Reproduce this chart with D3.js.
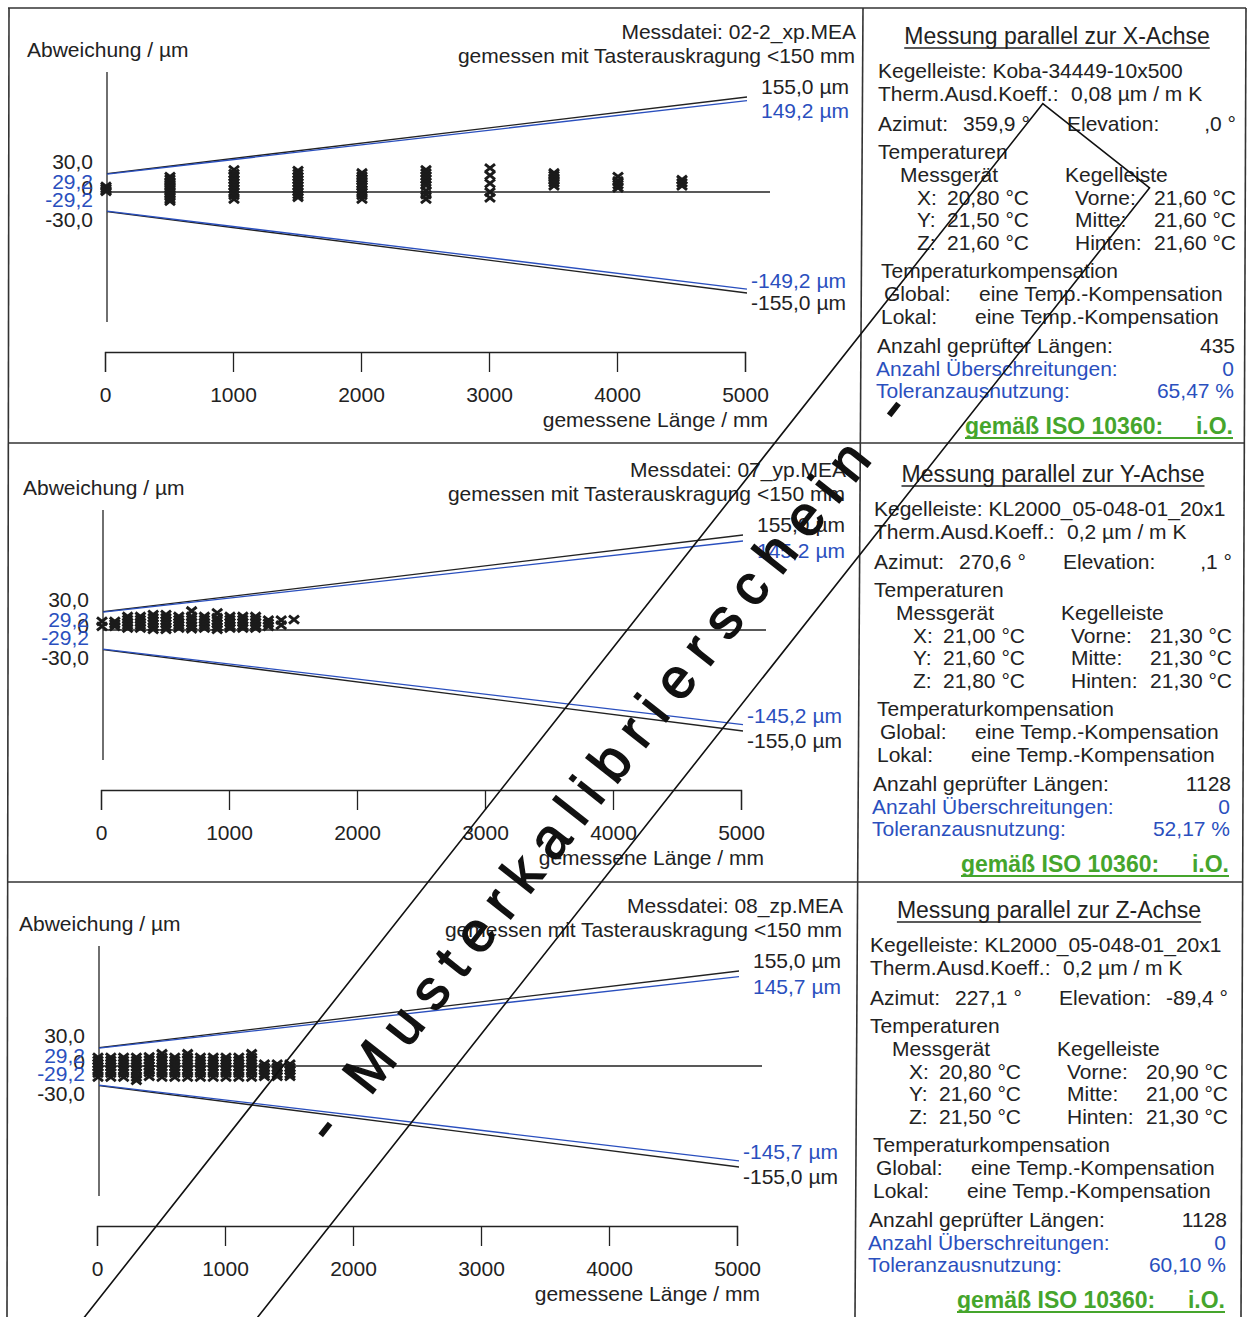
<!DOCTYPE html>
<html>
<head>
<meta charset="utf-8">
<script src="https://cdnjs.cloudflare.com/ajax/libs/d3/7.8.5/d3.min.js"></script>
<style>
    body { margin: 0; background: #fff; }
    svg { display: block; }
    text { font-family: "Liberation Sans", Arial, sans-serif; fill: #222; }
</style>
</head>
<body>
<div class="svg-container"></div>
<script>
// ---------------- data ----------------
let axisNames = ["X", "Y", "Z"];
let measureFiles = ["02-2_xp.MEA", "07_yp.MEA", "08_zp.MEA"];
let mpeStart = 30.0;     // black limit at L = 0
let mpeEnd = 155.0;      // black limit at L = 5000 mm
let limitStart = [29.2, 29.2, 29.2];   // blue limit at L = 0
let limitEnd = [149.2, 145.2, 145.7];  // blue limit at L = 5000 mm
let lengthTicks = [0, 1000, 2000, 3000, 4000, 5000];

let kegelleiste = ["Koba-34449-10x500", "KL2000_05-048-01_20x1", "KL2000_05-048-01_20x1"];
let ausdKoeff = ["0,08", "0,2", "0,2"];
let azimut = ["359,9", "270,6", "227,1"];
let elevation = [",0", ",1", "-89,4"];
let tempMessgeraet = [["20,80", "21,50", "21,60"], ["21,00", "21,60", "21,80"], ["20,80", "21,60", "21,50"]];
let tempKegelleiste = [["21,60", "21,60", "21,60"], ["21,30", "21,30", "21,30"], ["20,90", "21,00", "21,30"]];
let anzahlLaengen = ["435", "1128", "1128"];
let anzahlUeberschreitungen = ["0", "0", "0"];
let toleranzausnutzung = ["65,47", "52,17", "60,10"];

// measured deviations (µm), grouped by nominal length (mm)
let lengthsX = [0, 500, 1000, 1500, 2000, 2500, 3000, 3500, 4000, 4500];
let deviationsX = [
    [9, 6, 3, 1],
    [25, 21, 17, 13, 9, 5, 1, -3, -7, -11, -14],
    [36, 30, 25, 20, 15, 10, 5, 0, -5, -11],
    [35, 30, 25, 20, 15, 10, 5, 0, -4, -8],
    [31, 26, 22, 18, 13, 9, 4, 0, -5, -11],
    [36, 31, 26, 21, 16, 11, 2, -4, -11],
    [39, 27, 14, 0, -9],
    [31, 27, 23, 19, 15, 10],
    [25, 18, 12, 7],
    [20, 15, 10]
];
let lengthsY = [0, 100, 200, 300, 400, 500, 600, 700, 800, 900, 1000, 1100, 1200, 1300, 1400, 1500];
let deviationsY = [
    [14, 6],
    [14, 10, 6],
    [22, 17, 12, 8, 3],
    [22, 17, 12, 8, 3],
    [25, 20, 15, 10, 5, 1],
    [25, 20, 15, 10, 5, 1],
    [22, 17, 12, 8, 3],
    [31, 22, 17, 12, 7, 2],
    [22, 17, 12, 8, 3],
    [28, 20, 15, 10, 5, 1],
    [22, 17, 12, 7, 3],
    [22, 17, 12, 7, 3],
    [22, 17, 12, 7, 3],
    [16, 11, 6],
    [16, 8],
    [17]
];
let lengthsZ = [0, 100, 200, 300, 400, 500, 600, 700, 800, 900, 1000, 1100, 1200, 1300, 1400, 1500];
let deviationsZ = [
    [14, 9, 4, -1, -6, -11, -17],
    [14, 9, 4, -1, -6, -11, -17],
    [14, 9, 4, -1, -6, -11, -17],
    [14, 9, 4, -1, -6, -11, -17, -22],
    [15, 10, 5, 0, -5, -10, -16],
    [20, 14, 9, 4, -1, -6, -11, -17],
    [14, 9, 4, -1, -6, -11, -17],
    [20, 14, 9, 4, -1, -6, -11, -17],
    [14, 9, 4, -1, -6, -11, -17],
    [14, 9, 4, -1, -6, -11, -17],
    [14, 9, 4, -1, -6, -11, -17],
    [14, 9, 4, -1, -6, -11, -17],
    [20, 14, 9, 4, -1, -6, -11, -17],
    [3, -2, -7, -12, -16],
    [3, -2, -7, -12, -16],
    [3, -2, -7, -12, -16]
];
let allLengths = [lengthsX, lengthsY, lengthsZ];
let allDeviations = [deviationsX, deviationsY, deviationsZ];

// ---------------- layout ----------------
let width = 1252;
let height = 1317;
let PANEL_Y = [36, 474, 910];      // title row of every panel
let PANEL_DX = [0, -4, -8];        // scan skew
let HEADER_RIGHT = [856, 846, 843];
let BLUE = "#2a4fbe";
let GREEN = "#45a52c";
let INK = "#222";
let FONT = 21;

let svg = d3.select(".svg-container")
    .append("svg")
    .attr("width", width)
    .attr("height", height);

svg.append("rect").attr("width", width).attr("height", height).attr("fill", "#fff");

function fmt(v)
{
    return v.toFixed(1).replace(".", ",");
}

function addText(g, x, y, str, opts)
{
    opts = opts || {};
    let t = g.append("text")
        .attr("x", x)
        .attr("y", y)
        .attr("dy", "0.35em")
        .style("font-size", (opts.size || FONT) + "px")
        .attr("text-anchor", opts.anchor || "start")
        .text(str);
    if (opts.color) t.style("fill", opts.color);
    if (opts.bold) t.style("font-weight", "bold");
    return t;
}

function underline(g, t, y, color)
{
    let b = t.node().getBBox();
    g.append("line")
        .attr("x1", b.x).attr("x2", b.x + b.width)
        .attr("y1", y).attr("y2", y)
        .attr("stroke", color).attr("stroke-width", 1.5);
}

function drawChart(i)
{
    let dx = PANEL_DX[i];
    let ty = PANEL_Y[i];
    let zero = ty + 156;
    let g = svg.append("g").attr("class", "chart");

    let x = d3.scaleLinear().domain([0, 5000]).range([105 + dx, 745 + dx]);
    let y = d3.scaleLinear().domain([-155, 0, 155]).range([zero + 101, zero, zero - 95]);

    addText(g, 27 + dx, ty + 14, "Abweichung / µm");
    addText(g, HEADER_RIGHT[i], ty - 4, "Messdatei: " + measureFiles[i], {anchor: "end"});
    addText(g, HEADER_RIGHT[i] - 1, ty + 20, "gemessen mit Tasterauskragung <150 mm", {anchor: "end"});

    // vertical axis line
    g.append("line")
        .attr("x1", x(0) + 2).attr("x2", x(0) + 2)
        .attr("y1", zero - 120).attr("y2", zero + 130)
        .attr("stroke", INK).attr("stroke-width", 1.3);

    // zero line
    g.append("line")
        .attr("x1", x(0) + 2).attr("x2", x(5000) + 25)
        .attr("y1", y(0)).attr("y2", y(0))
        .attr("stroke", INK).attr("stroke-width", 1.3);

    // limit lines
    let limits = [
        {a: mpeStart, b: mpeEnd, color: INK},
        {a: -mpeStart, b: -mpeEnd, color: INK},
        {a: limitStart[i], b: limitEnd[i], color: BLUE},
        {a: -limitStart[i], b: -limitEnd[i], color: BLUE}
    ];
    g.selectAll("line.limit")
        .data(limits)
        .enter()
        .append("line")
        .attr("class", "limit")
        .attr("x1", x(0) + 2).attr("x2", x(5000) + 2)
        .attr("y1", d => y(d.a)).attr("y2", d => y(d.b))
        .attr("stroke", d => d.color)
        .attr("stroke-width", 1.3);

    // labels at the left
    let leftLabels = [
        {v: mpeStart, off: -30, color: INK},
        {v: 0, off: -4, color: INK},
        {v: limitStart[i], off: -10, color: BLUE},
        {v: -limitStart[i], off: 8, color: BLUE},
        {v: -mpeStart, off: 28, color: INK}
    ];
    leftLabels.forEach(d => {
        addText(g, x(0) - 12, y(0) + d.off, d.v === 0 ? "0" : fmt(d.v), {anchor: "end", color: d.color});
    });

    // labels at the right end
    addText(g, x(5000) + 16, y(mpeEnd) - 10, fmt(mpeEnd) + " µm");
    addText(g, x(5000) + 16, y(limitEnd[i]) + 10, fmt(limitEnd[i]) + " µm", {color: BLUE});
    addText(g, x(5000) + 6, y(-limitEnd[i]) - 9, fmt(-limitEnd[i]) + " µm", {color: BLUE});
    addText(g, x(5000) + 6, y(-mpeEnd) + 10, fmt(-mpeEnd) + " µm");

    // measured points
    let points = [];
    allLengths[i].forEach((len, j) => {
        allDeviations[i][j].forEach(dev => points.push({len: len, dev: dev}));
    });
    g.append("g")
        .selectAll("path")
        .data(points)
        .enter()
        .append("path")
        .attr("transform", d => "translate(" + (x(d.len) + 1) + "," + y(d.dev) + ")")
        .attr("d", "M-5,-4L5,4M-5,4L5,-4")
        .attr("stroke", "#1b1b1b")
        .attr("stroke-width", 3)
        .attr("fill", "none");

    // length axis
    let xAxis = d3.axisBottom(x)
        .tickValues(lengthTicks)
        .tickFormat(d3.format("d"))
        .tickSize(20)
        .tickSizeOuter(20)
        .tickPadding(15);
    let ax = g.append("g")
        .attr("transform", "translate(0," + (zero + 160) + ")")
        .call(xAxis);
    ax.selectAll("path, line").attr("stroke", INK).attr("stroke-width", 1.3);
    ax.selectAll("text")
        .style("font-size", FONT + "px")
        .style("font-family", "\"Liberation Sans\", Arial, sans-serif")
        .attr("fill", INK);
    addText(g, x(5000) + 23, zero + 228, "gemessene Länge / mm", {anchor: "end"});
}

function drawInfo(i)
{
    let dx = PANEL_DX[i];
    let ty = PANEL_Y[i];
    let g = svg.append("g").attr("class", "info");
    let rows = [35, 58, 88, 116, 139, 162, 184, 207, 235, 258, 281, 310, 333, 355, 390];

    let title = addText(g, 1057 + dx, ty, "Messung parallel zur " + axisNames[i] + "-Achse", {anchor: "middle", size: 23});
    underline(g, title, ty + 12, INK);

    addText(g, 878 + dx, ty + rows[0], "Kegelleiste: " + kegelleiste[i]);
    addText(g, 878 + dx, ty + rows[1], "Therm.Ausd.Koeff.:");
    addText(g, 1071 + dx, ty + rows[1], ausdKoeff[i] + " µm / m K");
    addText(g, 878 + dx, ty + rows[2], "Azimut:");
    addText(g, 963 + dx, ty + rows[2], azimut[i] + " °");
    addText(g, 1067 + dx, ty + rows[2], "Elevation:");
    addText(g, 1236 + dx, ty + rows[2], elevation[i] + " °", {anchor: "end"});
    addText(g, 878 + dx, ty + rows[3], "Temperaturen");
    addText(g, 900 + dx, ty + rows[4], "Messgerät");
    addText(g, 1065 + dx, ty + rows[4], "Kegelleiste");

    let axisLabels = ["X:", "Y:", "Z:"];
    let barLabels = ["Vorne:", "Mitte:", "Hinten:"];
    for (let k = 0; k < 3; k++)
    {
        addText(g, 917 + dx, ty + rows[5 + k], axisLabels[k]);
        addText(g, 947 + dx, ty + rows[5 + k], tempMessgeraet[i][k] + " °C");
        addText(g, 1075 + dx, ty + rows[5 + k], barLabels[k]);
        addText(g, 1236 + dx, ty + rows[5 + k], tempKegelleiste[i][k] + " °C", {anchor: "end"});
    }

    addText(g, 881 + dx, ty + rows[8], "Temperaturkompensation");
    addText(g, 884 + dx, ty + rows[9], "Global:");
    addText(g, 979 + dx, ty + rows[9], "eine Temp.-Kompensation");
    addText(g, 881 + dx, ty + rows[10], "Lokal:");
    addText(g, 975 + dx, ty + rows[10], "eine Temp.-Kompensation");

    addText(g, 877 + dx, ty + rows[11], "Anzahl geprüfter Längen:");
    addText(g, 1235 + dx, ty + rows[11], anzahlLaengen[i], {anchor: "end"});
    addText(g, 876 + dx, ty + rows[12], "Anzahl Überschreitungen:", {color: BLUE});
    addText(g, 1234 + dx, ty + rows[12], anzahlUeberschreitungen[i], {anchor: "end", color: BLUE});
    addText(g, 876 + dx, ty + rows[13], "Toleranzausnutzung:", {color: BLUE});
    addText(g, 1234 + dx, ty + rows[13], toleranzausnutzung[i] + " %", {anchor: "end", color: BLUE});

    let gl = addText(g, 965 + dx, ty + rows[14], "gemäß ISO 10360:", {color: GREEN, bold: true, size: 23});
    addText(g, 1233 + dx, ty + rows[14], "i.O.", {anchor: "end", color: GREEN, bold: true, size: 23});
    let b = gl.node().getBBox();
    g.append("line")
        .attr("x1", b.x).attr("x2", 1233 + dx)
        .attr("y1", ty + rows[14] + 12).attr("y2", ty + rows[14] + 12)
        .attr("stroke", GREEN).attr("stroke-width", 2);
}

function drawFrame()
{
    let frame = [
        [8, 8, 1246, 8],
        [9, 8, 7, 1317],
        [1246, 8, 1241, 1317],
        [863, 8, 855, 1317],
        [8, 443, 1245, 443],
        [8, 882, 1243, 882]
    ];
    svg.append("g")
        .selectAll("line")
        .data(frame)
        .enter()
        .append("line")
        .attr("x1", d => d[0]).attr("y1", d => d[1])
        .attr("x2", d => d[2]).attr("y2", d => d[3])
        .attr("stroke", "#333")
        .attr("stroke-width", 1.6);
}

function drawStamp()
{
    // "Musterkalibrierschein" band across the sheet
    let g = svg.append("g").attr("transform", "translate(138,1359) rotate(-51.7)");
    g.append("rect")
        .attr("x", 0).attr("y", -68)
        .attr("width", 1546).attr("height", 136)
        .attr("fill", "none")
        .attr("stroke", "#111")
        .attr("stroke-width", 1.6);
    g.append("text")
        .attr("x", 755).attr("y", 0)
        .attr("dy", "0.35em")
        .attr("text-anchor", "middle")
        .attr("textLength", 936)
        .attr("lengthAdjust", "spacing")
        .style("font-size", "56px")
        .style("fill", "#111")
        .style("stroke", "#111")
        .style("stroke-width", 1.5)
        .text("- Musterkalibrierschein -");
}

drawFrame();
for (let i = 0; i < 3; i++)
{
    drawChart(i);
    drawInfo(i);
}
drawStamp();
</script>
</body>
</html>
